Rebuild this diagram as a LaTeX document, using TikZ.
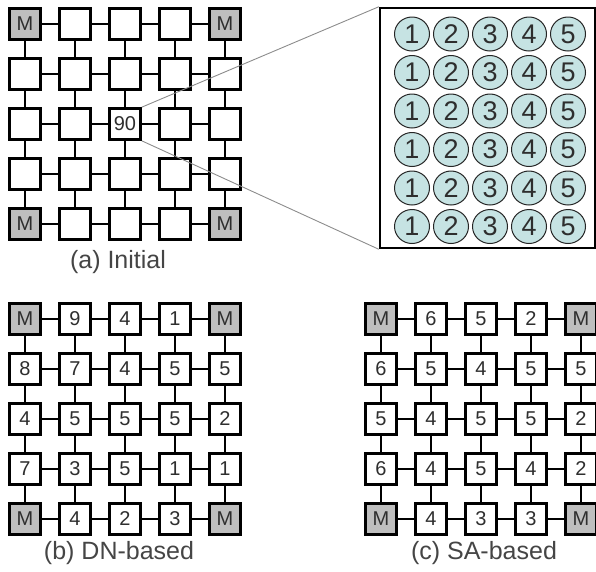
\documentclass[tikz,border=0pt]{standalone}
\usepackage{fontspec}
\setmainfont{Liberation Sans}
\definecolor{txt}{HTML}{2E2E2E}
\definecolor{capt}{HTML}{454545}
\definecolor{mfill}{HTML}{BEBEBE}
\definecolor{cfill}{HTML}{C6E3E3}
\definecolor{zoomline}{HTML}{8C8C8C}
\tikzset{
  cell/.style={draw=black, line width=2.7pt, fill=white, minimum size=31pt,
    inner sep=0pt, text=txt, font=\fontsize{20}{20}\selectfont},
  mcell/.style={cell, fill=mfill},
  link/.style={draw=black, line width=2.8pt},
  caption/.style={text=capt, font=\fontsize{25}{25}\selectfont},
  slot/.style={ellipse, draw=black!85, line width=1pt, fill=cfill,
    minimum width=35pt, minimum height=34pt, inner sep=0pt, text=txt,
    font=\fontsize{27}{27}\selectfont},
}
\usetikzlibrary{shapes.geometric}
\begin{document}
\begin{tikzpicture}[x=1pt, y=-1pt]
\useasboundingbox (0,0) rectangle (596,571);

% ---------- (a) initial mesh ----------
\foreach \r in {1,...,5}{
  \foreach \c in {1,...,5}{
    \pgfmathsetmacro{\xx}{25+50*(\c-1)}
    \pgfmathsetmacro{\yy}{24+50*(\r-1)}
    \node[cell] (a-\r-\c) at (\xx,\yy) {};
  }
}
\foreach \r/\c in {1/1,1/5,5/1,5/5}{
  \node[mcell] at (a-\r-\c) {M};
}
\node[cell] at (a-3-3) {90};
\foreach \r in {1,...,5}{
  \foreach \c [count=\n from 2] in {1,...,4}{
    \draw[link] (a-\r-\c) -- (a-\r-\n);
    \draw[link] (a-\c-\r) -- (a-\n-\r);
  }
}
\node[caption] (capa) at (118,262) {(a) Initial};

% ---------- zoomed panel ----------
\node[draw=black, line width=2.5pt, minimum width=215pt, minimum height=240pt,
  inner sep=0pt] (panel) at (487.5,128) {};
\draw[zoomline, line width=0.9pt] (a-3-3.north east) -- (panel.north west);
\draw[zoomline, line width=0.9pt] (a-3-3.south east) -- (panel.south west);
\foreach \r in {1,...,6}{
  \foreach \c in {1,...,5}{
    \pgfmathsetmacro{\xx}{412+39*(\c-1)}
    \pgfmathsetmacro{\yy}{34+38.5*(\r-1)}
    \node[slot] (s-\r-\c) at (\xx,\yy) {\c};
  }
}

% ---------- (b) DN-based mesh ----------
\foreach \row [count=\r] in {{M,9,4,1,M},{8,7,4,5,5},{4,5,5,5,2},{7,3,5,1,1},{M,4,2,3,M}}{
  \foreach \v [count=\c] in \row {
    \pgfmathsetmacro{\xx}{25+50*(\c-1)}
    \pgfmathsetmacro{\yy}{319+50*(\r-1)}
    \node[cell] (b-\r-\c) at (\xx,\yy) {\v};
  }
}
\foreach \r/\c in {1/1,1/5,5/1,5/5}{
  \node[mcell] at (b-\r-\c) {M};
}
\foreach \r in {1,...,5}{
  \foreach \c [count=\n from 2] in {1,...,4}{
    \draw[link] (b-\r-\c) -- (b-\r-\n);
    \draw[link] (b-\c-\r) -- (b-\n-\r);
  }
}
\node[caption] (capb) at (119,553) {(b) DN-based};

% ---------- (c) SA-based mesh ----------
\foreach \row [count=\r] in {{M,6,5,2,M},{6,5,4,5,5},{5,4,5,5,2},{6,4,5,4,2},{M,4,3,3,M}}{
  \foreach \v [count=\c] in \row {
    \pgfmathsetmacro{\xx}{381+50*(\c-1)}
    \pgfmathsetmacro{\yy}{319+50*(\r-1)}
    \node[cell] (c-\r-\c) at (\xx,\yy) {\v};
  }
}
\foreach \r/\c in {1/1,1/5,5/1,5/5}{
  \node[mcell] at (c-\r-\c) {M};
}
\foreach \r in {1,...,5}{
  \foreach \c [count=\n from 2] in {1,...,4}{
    \draw[link] (c-\r-\c) -- (c-\r-\n);
    \draw[link] (c-\c-\r) -- (c-\n-\r);
  }
}
\node[caption] (capc) at (484,553) {(c) SA-based};
\end{tikzpicture}
\end{document}
